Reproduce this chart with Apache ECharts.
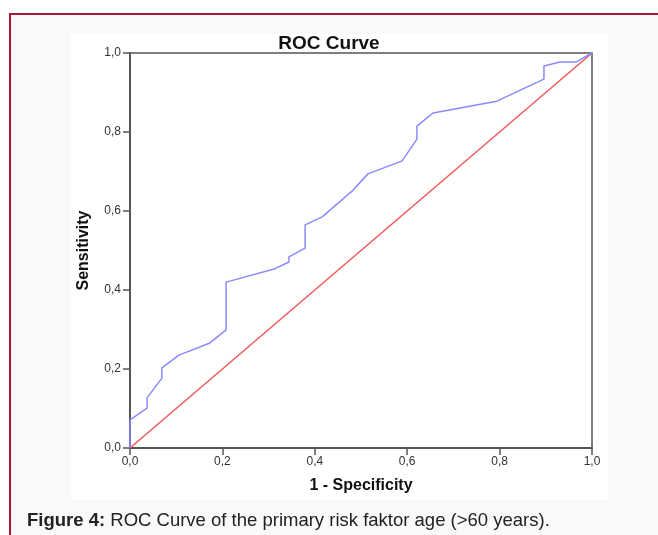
<!DOCTYPE html>
<html>
<head>
<meta charset="utf-8">
<title>ROC Curve</title>
<script src="https://cdn.jsdelivr.net/npm/echarts@6/dist/echarts.min.js"></script>
<style>
    html, body { margin: 0; padding: 0; background: #ffffff; }
    #page { position: relative; width: 658px; height: 535px; overflow: hidden; }
    /* 外框 */
    .frame {
        position: absolute; left: 9px; top: 13px; width: 700px; height: 600px;
        border-left: 2px solid #a8143c; border-top: 2px solid #a8143c;
        background: #fbf8f9;
    }
    .plot-box {
        position: absolute; left: 71px; top: 34px; width: 537px; height: 466px;
        background: #ffffff;
    }
    #chart { position: absolute; left: 0; top: 0; width: 658px; height: 535px; }
    .caption {
        position: absolute; left: 27px; top: 509px;
        font-family: "Liberation Sans", Arial, sans-serif; font-size: 18.5px; color: #222;
        white-space: nowrap;
    }
</style>
</head>
<body>
<div id="page">
    <div class="frame"></div>
    <div class="plot-box"></div>
    <div id="chart"></div>
    <div class="caption"><b>Figure 4:</b> ROC Curve of the primary risk faktor age (&gt;60 years).</div>
</div>
<script>
// 数据
const axisTicks = [0, 0.2, 0.4, 0.6, 0.8, 1.0];
const rocFpr = [0, 0, 0.037, 0.037, 0.069, 0.069, 0.106, 0.173, 0.208, 0.208, 0.312, 0.344, 0.344,
    0.379, 0.379, 0.416, 0.483, 0.515, 0.589, 0.621, 0.621, 0.656, 0.794, 0.896, 0.896, 0.931, 0.965, 1.0];
const rocTpr = [0, 0.071, 0.101, 0.127, 0.177, 0.203, 0.235, 0.266, 0.299, 0.420, 0.453, 0.471, 0.484,
    0.506, 0.565, 0.585, 0.653, 0.694, 0.727, 0.782, 0.815, 0.848, 0.878, 0.934, 0.967, 0.977, 0.977, 1.0];
const refX = [0, 1];
const refY = [0, 1];

const fmt = v => v.toFixed(1).replace('.', ',');
const font = 'Liberation Sans, Arial, sans-serif';

const chart = echarts.init(document.getElementById('chart'));

const option = {
    animation: false,
    backgroundColor: 'transparent',
    title: {
        text: 'ROC Curve',
        left: 'center',
        top: 29,
        textStyle: { fontFamily: font, fontSize: 19, fontWeight: 'bold', color: '#111' }
    },
    grid: {
        left: 130, top: 53, width: 462, height: 395,
        show: true, borderColor: '#555', borderWidth: 1.5, backgroundColor: 'transparent'
    },
    xAxis: {
        type: 'value', min: axisTicks[0], max: axisTicks[axisTicks.length - 1], interval: 0.2,
        name: '1 - Specificity', nameLocation: 'middle', nameGap: 30,
        nameTextStyle: { fontFamily: font, fontSize: 16, fontWeight: 'bold', color: '#111' },
        axisLine: { show: true, lineStyle: { color: '#555', width: 2 } },
        axisTick: { show: true, length: 7, lineStyle: { color: '#555', width: 1.5 } },
        axisLabel: { formatter: fmt, margin: 8, fontFamily: font, fontSize: 12, color: '#333' },
        splitLine: { show: false }
    },
    yAxis: {
        type: 'value', min: axisTicks[0], max: axisTicks[axisTicks.length - 1], interval: 0.2,
        name: 'Sensitivity', nameLocation: 'middle', nameGap: 38, nameRotate: 90,
        nameTextStyle: { fontFamily: font, fontSize: 16, fontWeight: 'bold', color: '#111' },
        axisLine: { show: true, lineStyle: { color: '#555', width: 2 } },
        axisTick: { show: true, length: 7, lineStyle: { color: '#555', width: 1.5 } },
        axisLabel: { formatter: fmt, margin: 9, fontFamily: font, fontSize: 12, color: '#333' },
        splitLine: { show: false }
    },
    series: [
        {
            name: 'Reference',
            type: 'line',
            data: refX.map((x, i) => [x, refY[i]]),
            symbol: 'none',
            lineStyle: { color: '#f05858', width: 1.5 }
        },
        {
            name: 'ROC',
            type: 'line',
            data: rocFpr.map((x, i) => [x, rocTpr[i]]),
            symbol: 'none',
            lineStyle: { color: '#8a8aff', width: 1.5 }
        }
    ]
};

chart.setOption(option);
</script>
</body>
</html>
